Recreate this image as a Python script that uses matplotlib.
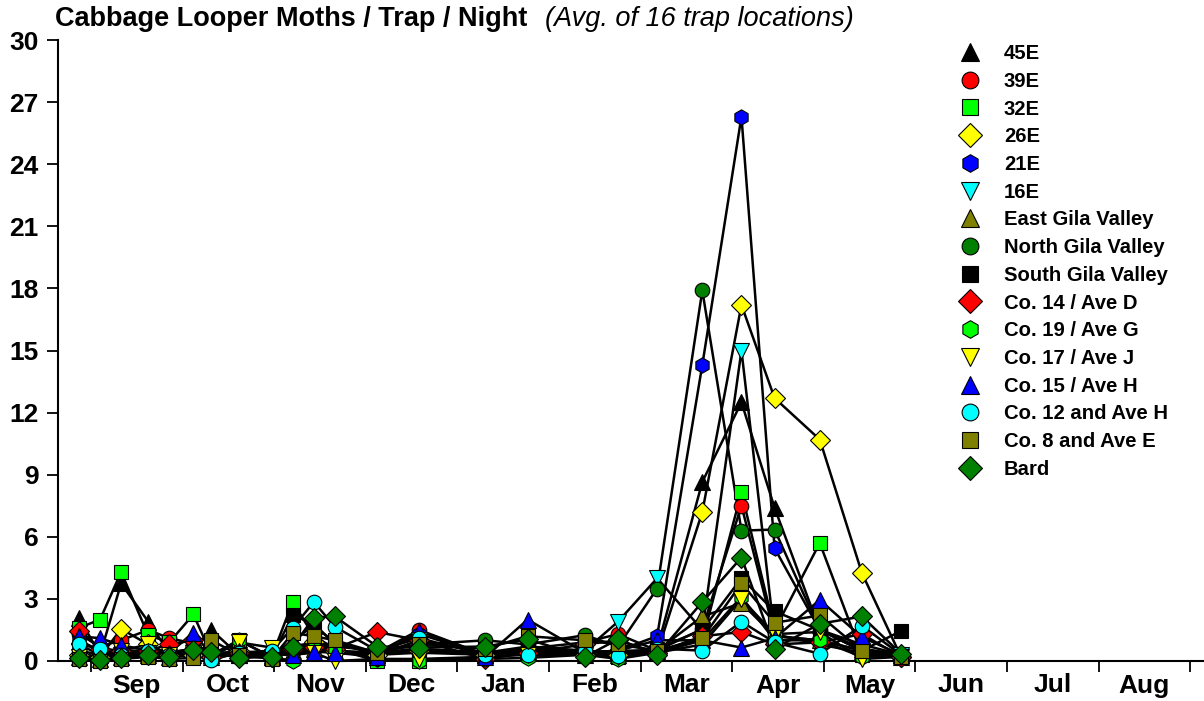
import matplotlib
matplotlib.use("Agg")
import matplotlib.pyplot as plt
from matplotlib.lines import Line2D
from matplotlib.ticker import FixedLocator, NullFormatter

# sample dates, as days since Sep 1
sample_day = [-4, 3, 10, 19, 26, 34, 40, 49, 60, 67, 74, 81, 95,
              109, 131, 145, 164, 175, 188, 203, 216, 227, 242, 256, 269]

months = ["Sep", "Oct", "Nov", "Dec", "Jan", "Feb",
          "Mar", "Apr", "May", "Jun", "Jul", "Aug"]
y_ticks = [0, 3, 6, 9, 12, 15, 18, 21, 24, 27, 30]

s45e = [2.1, 0.3, 3.75, 1.9, 0.4, 0.6, 1.5, 0.3, 0.2, 1.0, 1.7, 0.9, 0.3,
        0.4, 0.3, 0.5, 0.3, 0.3, 0.6, 8.65, 12.5, 7.4, 1.5, 0.6, 0.3]
s39e = [1.3, 0.7, 1.0, 1.5, 1.1, 0.85, 0.3, 0.5, 0.2, 0.6, 0.8, 0.5, 0.4,
        1.5, 0.3, 0.6, 0.9, 1.3, 0.5, 1.55, 7.5, 1.3, 0.8, 0.4, 0.2]
s32e = [1.6, 2.0, 4.3, 1.25, 0.9, 2.25, 0.3, 1.0, 0.2, 2.85, 1.2, 0.6, 0.0,
        0.0, 0.2, 0.4, 0.3, 0.2, 0.5, 1.0, 8.15, 1.5, 5.7, 0.3, 0.3]
s26e = [0.3, 0.2, 1.55, 0.8, 0.3, 0.3, 0.2, 0.5, 0.2, 0.7, 0.9, 0.5, 0.3,
        0.5, 0.3, 0.4, 0.3, 0.3, 0.4, 7.2, 17.2, 12.7, 10.7, 4.25, 0.2]
s21e = [1.0, 0.5, 0.3, 0.3, 0.2, 0.3, 0.2, 0.3, 0.2, 0.5, 0.6, 0.4, 0.3,
        1.3, 0.3, 0.5, 0.4, 0.5, 1.2, 14.3, 26.3, 5.45, 1.5, 0.5, 0.3]
s16e = [0.5, 0.3, 0.3, 0.4, 0.2, 0.3, 0.2, 0.3, 0.2, 0.4, 0.5, 0.4, 0.3,
        1.0, 0.4, 0.6, 0.5, 1.9, 4.0, 1.5, 15.0, 1.2, 1.0, 0.5, 0.3]
east_gila = [0.2, 0.1, 0.2, 0.3, 0.2, 0.3, 0.2, 0.3, 0.2, 0.5, 0.6, 0.5, 0.3,
             0.5, 0.3, 0.6, 0.4, 0.5, 0.5, 2.15, 2.8, 1.2, 1.0, 0.5, 0.2]
north_gila = [0.3, 0.2, 0.3, 0.5, 0.4, 0.6, 0.3, 0.4, 0.2, 0.6, 0.8, 0.7, 0.5,
              0.8, 1.0, 0.8, 1.25, 0.7, 3.5, 17.9, 6.3, 6.35, 1.5, 0.8, 0.3]
south_gila = [0.3, 0.2, 0.4, 0.3, 0.2, 0.4, 0.3, 0.3, 0.2, 2.2, 1.8, 0.8, 0.4,
              0.6, 0.4, 0.7, 0.5, 0.4, 0.6, 1.5, 4.0, 2.4, 1.5, 0.5, 1.45]
co14 = [1.45, 0.6, 0.5, 0.5, 0.8, 1.0, 0.2, 0.4, 0.2, 0.6, 0.7, 0.6, 1.4,
        1.0, 0.1, 0.4, 0.8, 1.0, 0.4, 1.2, 1.4, 0.8, 0.9, 1.3, 0.2]
co19 = [0.8, 0.3, 0.4, 0.3, 0.3, 0.5, 0.2, 1.0, 0.2, 0.0, 1.0, 0.55, 0.1,
        0.0, 0.1, 0.15, 0.3, 0.1, 0.4, 1.0, 3.1, 1.0, 1.0, 0.2, 0.3]
co17 = [0.2, 0.3, 0.5, 0.8, 0.3, 0.4, 0.2, 0.9, 0.65, 0.3, 0.4, 0.0, 0.1,
        0.1, 0.2, 0.3, 0.3, 0.2, 0.4, 0.8, 3.0, 1.3, 1.4, 0.1, 0.2]
co15 = [1.2, 1.1, 0.77, 0.5, 0.4, 1.35, 0.3, 0.5, 0.3, 0.3, 0.45, 0.4, 0.2,
        1.45, 0.2, 2.0, 0.4, 0.5, 1.0, 1.0, 0.65, 1.1, 2.95, 1.15, 0.3]
co12 = [0.8, 0.6, 0.3, 0.5, 0.3, 0.4, 0.05, 0.4, 0.5, 1.6, 2.85, 1.65, 0.5,
        1.1, 0.3, 0.3, 0.5, 0.25, 0.6, 0.5, 1.9, 0.9, 0.35, 1.7, 0.3]
co8 = [0.1, 0.0, 0.1, 0.2, 0.1, 0.15, 1.0, 0.3, 0.1, 1.35, 1.2, 1.0, 0.4,
       0.8, 0.6, 1.2, 1.0, 0.8, 0.5, 1.1, 3.75, 1.85, 2.2, 0.5, 0.2]
bard = [0.15, 0.05, 0.15, 0.3, 0.2, 0.55, 0.45, 0.15, 0.2, 0.7, 2.1, 2.15, 0.7,
        0.65, 0.7, 1.05, 0.2, 1.05, 0.3, 2.85, 5.0, 0.6, 1.8, 2.15, 0.35]

# (label, values, marker, face colour)
series = [
    ("45E", s45e, "^", "black"),
    ("39E", s39e, "o", "red"),
    ("32E", s32e, "s", "#00ff00"),
    ("26E", s26e, "D", "yellow"),
    ("21E", s21e, "h", "blue"),
    ("16E", s16e, "v", "cyan"),
    ("East Gila Valley", east_gila, "^", "#808000"),
    ("North Gila Valley", north_gila, "o", "#008000"),
    ("South Gila Valley", south_gila, "s", "black"),
    ("Co. 14 / Ave D", co14, "D", "red"),
    ("Co. 19 / Ave G", co19, "h", "#00ff00"),
    ("Co. 17 / Ave J", co17, "v", "yellow"),
    ("Co. 15 / Ave H", co15, "^", "blue"),
    ("Co. 12 and Ave H", co12, "o", "cyan"),
    ("Co. 8 and Ave E", co8, "s", "#808000"),
    ("Bard", bard, "D", "#008000"),
]

MSIZE = {"^": 11, "v": 11, "o": 10.5, "s": 10, "D": 10.5, "h": 11}

plt.rcParams["font.family"] = ["Liberation Sans", "DejaVu Sans"]

fig = plt.figure(figsize=(12.04, 7.01), dpi=100)
ax = fig.add_axes([58 / 1204, 40 / 701, 1 - 58 / 1204, 621 / 701])

handles = []
for label, vals, mk, col in series:
    ax.plot(sample_day, vals, color="black", lw=1.8, zorder=2)
    ax.plot(sample_day, vals, ls="none", marker=mk, ms=MSIZE[mk],
            mfc=col, mec="black", mew=0.8, zorder=3, clip_on=False)
    handles.append(Line2D([], [], ls="none", marker=mk, ms=MSIZE[mk] * 1.15,
                          mfc=col, mec="black", mew=0.8, label=label))

month_len = 365 / 12
ax.set_xlim(-10.96, 369.6)
ax.set_ylim(0, 30)

ax.xaxis.set_major_locator(FixedLocator([k * month_len for k in range(13)]))
ax.xaxis.set_major_formatter(NullFormatter())
ax.xaxis.set_minor_locator(FixedLocator([(k + 0.5) * month_len for k in range(12)]))
ax.set_xticklabels(months, minor=True)
ax.tick_params(axis="x", which="major", direction="out", length=8, width=1.3)
ax.tick_params(axis="x", which="minor", length=0, pad=9, labelsize=19)
for t in ax.get_xticklabels(minor=True):
    t.set_fontweight("bold")

ax.set_yticks(y_ticks)
ax.tick_params(axis="y", direction="out", length=8, width=1.3, labelsize=19, pad=6)
for t in ax.get_yticklabels():
    t.set_fontweight("bold")

for side in ("top", "right"):
    ax.spines[side].set_visible(False)
for side in ("left", "bottom"):
    ax.spines[side].set_linewidth(1.5)

fig.legend(handles=handles, loc="upper left", bbox_to_anchor=(942 / 1204, 1 - 36 / 701),
           frameon=False, prop={"weight": "bold", "size": 14.6},
           labelspacing=0.43, handletextpad=0.65, borderaxespad=0)

fig.text(55 / 1204, 1 - 19 / 701, "Cabbage Looper Moths / Trap / Night",
         fontweight="bold", fontsize=19.5, va="center", ha="left")
fig.text(545 / 1204, 1 - 19 / 701, "(Avg. of 16 trap locations)",
         style="italic", fontsize=19.5, va="center", ha="left")

fig.savefig("out.png", dpi=100)
